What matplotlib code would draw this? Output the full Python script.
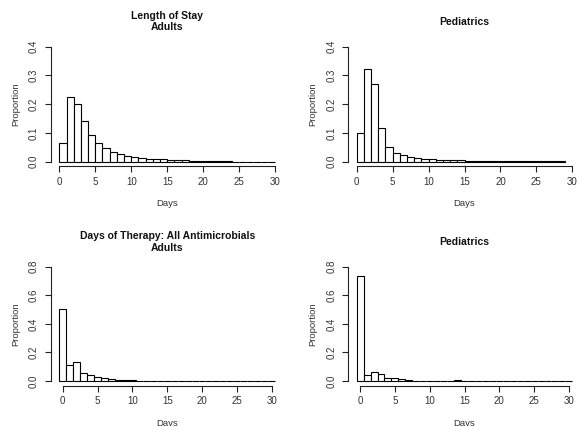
import matplotlib
matplotlib.use("Agg")
import matplotlib.pyplot as plt
import numpy as np

plt.rcParams['font.family'] = ['Liberation Sans', 'DejaVu Sans']

# proportions per 1-day bin
los_adult = [0.065, 0.226, 0.201, 0.140, 0.093, 0.065, 0.047, 0.035, 0.027, 0.020,
             0.018, 0.013, 0.010, 0.009, 0.008, 0.006, 0.005, 0.005, 0.003, 0.003,
             0.002, 0.002, 0.002, 0.002, 0, 0, 0, 0, 0, 0]
los_peds = [0.100, 0.322, 0.269, 0.117, 0.052, 0.029, 0.022, 0.017, 0.012, 0.009,
            0.009, 0.006, 0.006, 0.006, 0.006, 0.001, 0.001, 0.001, 0.001, 0.001,
            0.001, 0.001, 0.001, 0.001, 0.001, 0.001, 0.001, 0.001, 0.001]
dot_adult = [0.504, 0.114, 0.131, 0.056, 0.040, 0.030, 0.019, 0.014, 0.009, 0.007,
             0.007, 0.003, 0.003, 0.002, 0.002, 0.002, 0.002, 0, 0, 0,
             0, 0, 0, 0, 0, 0, 0, 0, 0, 0, 0]
dot_peds = [0.737, 0.040, 0.065, 0.047, 0.021, 0.023, 0.014, 0.009, 0.003, 0.003,
            0.003, 0.003, 0, 0, 0.004, 0, 0, 0, 0, 0,
            0, 0, 0, 0, 0, 0, 0, 0, 0, 0, 0]

titles = ["Length of Stay\nAdults", "Pediatrics",
          "Days of Therapy: All Antimicrobials\nAdults", "Pediatrics"]
xticks = [0, 5, 10, 15, 20, 25, 30]
yticks_los = [0.0, 0.1, 0.2, 0.3, 0.4]
yticks_dot = [0.0, 0.2, 0.4, 0.6, 0.8]

W, H = 577, 426
fig = plt.figure(figsize=(W / 100, H / 100), dpi=100)


def panel(px_left, px_top, px_w, px_h, vals, start, yticks, ylim, xlim, title):
    ax = fig.add_axes([px_left / W, 1 - (px_top + px_h) / H, px_w / W, px_h / H])
    edges = np.arange(len(vals)) + start
    ax.bar(edges, vals, width=1, align='edge', facecolor='white',
           edgecolor='black', linewidth=0.8)
    ax.set_xlim(*xlim)
    ax.set_ylim(*ylim)
    for s in ['top', 'right']:
        ax.spines[s].set_visible(False)
    for s in ['left', 'bottom']:
        ax.spines[s].set_color('#222')
        ax.spines[s].set_linewidth(0.8)
    ax.spines['bottom'].set_bounds(0, 30)
    ax.spines['left'].set_bounds(yticks[0], yticks[-1])
    ax.set_xticks(xticks)
    ax.set_yticks(yticks)
    ax.set_yticklabels(["%.1f" % v for v in yticks], rotation=90, va='center')
    ax.tick_params(direction='out', length=4, width=0.8, colors='#222',
                   labelsize=7, labelcolor='#333')
    ax.tick_params(axis='x', pad=3.5)
    ax.tick_params(axis='y', pad=4.5)
    ax.set_xlabel("Days", fontsize=6.8, color='#333')
    ax.xaxis.set_label_coords(0.5, -37.5 / px_h)
    ax.xaxis.label.set_va('center')
    ax.set_ylabel("Proportion", fontsize=6.8, color='#333')
    ax.yaxis.set_label_coords(-35 / px_w, 0.5)
    ax.yaxis.label.set_va('center')
    ax.text(0.5, 1 + 20.4 / px_h, title, transform=ax.transAxes, ha='center',
            va='center', fontsize=7.5, fontweight='bold', linespacing=1.2,
            color='#111')
    return ax


panel(50.7, 42.1, 233, 124.2, los_adult, 0, yticks_los, (-0.016, 0.416), (-1.2, 31.2), titles[0])
panel(348.0, 42.1, 233, 124.2, los_peds, 0, yticks_los, (-0.016, 0.416), (-1.2, 31.2), titles[1])
panel(50.7, 262.1, 233, 123.5, dot_adult, -0.5, yticks_dot, (-0.032, 0.832), (-1.74, 31.74), titles[2])
panel(348.0, 262.1, 233, 123.5, dot_peds, -0.5, yticks_dot, (-0.032, 0.832), (-1.74, 31.74), titles[3])

fig.savefig("out.png", dpi=100)
